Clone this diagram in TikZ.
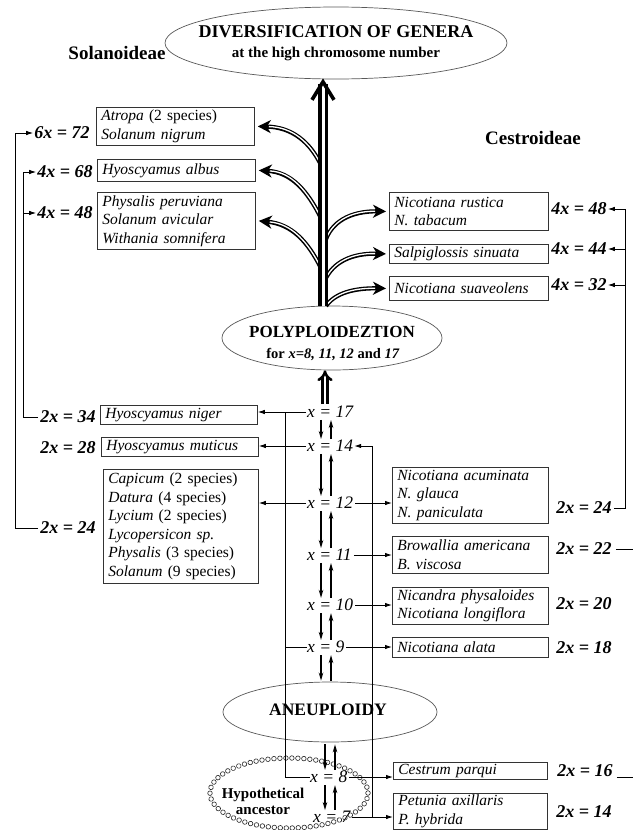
\documentclass[tikz,border=0pt]{standalone}
\usepackage{fontspec}
\setmainfont{Liberation Serif}
\usetikzlibrary{arrows.meta,shapes.geometric,decorations.markings}
\begin{document}
\begin{tikzpicture}[x=1pt,y=-1pt,
  box/.style={draw=black!80, line width=0.8pt, anchor=north west, align=left,
    inner xsep=5pt, inner ysep=0pt, font=\fontsize{15.5}{18.5}\selectfont\itshape},
  lab/.style={font=\fontsize{18}{20}\selectfont\bfseries\itshape, inner sep=0pt},
  xl/.style={font=\fontsize{17.5}{20}\selectfont\itshape, inner sep=0pt, anchor=west},
  oval/.style={ellipse, draw=black!65, line width=0.7pt, inner sep=0pt, align=center},
  ovtxt/.style={inner sep=0pt, font=\bfseries},
  sub/.style={font=\fontsize{19}{22}\selectfont\bfseries, inner sep=0pt},
  con/.style={line width=0.9pt, -{Latex[length=7pt,width=4.5pt]}},
  lin/.style={line width=0.9pt},
  dn/.style={line width=1.3pt, -{Stealth[length=8pt,width=4.5pt]}},
  stemline/.style={line width=3.9pt, double=white, double distance=3pt},
  dbl/.style={line width=2.6pt, double=white, double distance=2.2pt, -{Implies[scale=1.2]}},
  brout/.style={line width=4.2pt, -{Stealth[length=13pt,width=13pt,inset=4pt]}},
  brin/.style={line width=1.3pt, white, shorten >=11pt},
  chevron/.style={line width=3.6pt, line join=miter, line cap=butt},
]
\fill[white] (0,0) rectangle (634,830);
\useasboundingbox (0,0) rectangle (634,830);

% ---- ovals
\node[oval, minimum width=342pt, minimum height=72pt] (div) at (336,43) {};
\node[ovtxt, font=\fontsize{18}{21}\selectfont\bfseries] (divt1) at (336,32) {DIVERSIFICATION OF GENERA};
\node[ovtxt, font=\fontsize{15}{17}\selectfont\bfseries] (divt2) at (336,54) {at the high chromosome number};
\node[oval, minimum width=220pt, minimum height=64pt] (poly) at (332,338) {};
\node[ovtxt, font=\fontsize{17}{20}\selectfont\bfseries] (polyt1) at (332,332) {POLYPLOIDEZTION};
\node[ovtxt, font=\fontsize{14.5}{17}\selectfont\bfseries] (polyt2) at (333,355) {for \textit{x=8, 11, 12} and \textit{17}};
\node[oval, minimum width=214pt, minimum height=60pt] (aneu) at (330,712) {};
\node[ovtxt, font=\fontsize{17.5}{20}\selectfont\bfseries] (aneut) at (328,710) {ANEUPLOIDY};
\node[ellipse, minimum width=158pt, minimum height=70pt, inner sep=0pt,
  postaction={decorate, decoration={markings, mark=between positions 0 and 1 step 6pt with {\draw[line width=0.6pt, black!85] (0,0) circle (2.3pt);}}}] (anc) at (289,793) {};
\node[font=\fontsize{15}{16}\selectfont\bfseries, align=center, inner sep=0pt] (anctxt) at (263,801) {Hypothetical\\ancestor};

% ---- subfamilies
\node[sub] (solan) at (117,53) {Solanoideae};
\node[sub] (cestr) at (533,138) {Cestroideae};

% ---- left boxes
\node[box, text width=148pt, minimum height=38pt] (atropa) at (96,107) {Atropa {\upshape(2 species)}\\Solanum nigrum};
\node[box, text width=148pt, minimum height=22pt] (albus) at (97,159) {Hyoscyamus albus};
\node[box, text width=148pt, minimum height=57pt] (physalis) at (97,192) {Physalis peruviana\\Solanum avicular\\Withania somnifera};
\node[box, text width=147pt, minimum height=19pt] (niger) at (100,405) {Hyoscyamus niger};
\node[box, text width=147pt, minimum height=19pt] (muticus) at (101,437) {Hyoscyamus muticus};
\node[box, text width=145pt, minimum height=114pt] (capicum) at (103,469) {Capicum {\upshape(2 species)}\\Datura {\upshape(4 species)}\\Lycium {\upshape(2 species)}\\Lycopersicon sp.\\Physalis {\upshape(3 species)}\\Solanum {\upshape(9 species)}};

% ---- right boxes
\node[box, text width=149pt, minimum height=38pt] (rustica) at (389,192) {Nicotiana rustica\\N. tabacum};
\node[box, text width=149pt, minimum height=19pt] (salpi) at (389,244) {Salpiglossis sinuata};
\node[box, text width=149pt, minimum height=24pt] (suav) at (389,276) {Nicotiana suaveolens};
\node[box, text width=146pt, minimum height=56pt] (acum) at (392,467) {Nicotiana acuminata\\N. glauca\\N. paniculata};
\node[box, text width=146pt, minimum height=37pt] (brow) at (392,536) {Browallia americana\\B. viscosa};
\node[box, text width=146pt, minimum height=37pt] (nican) at (392,587) {Nicandra physaloides\\Nicotiana longiflora};
\node[box, text width=146pt, minimum height=20pt] (alata) at (392,637) {Nicotiana alata};
\node[box, text width=144pt, minimum height=17pt] (cestrum) at (393,762) {Cestrum parqui};
\node[box, text width=144pt, minimum height=36pt] (petunia) at (393,793) {Petunia axillaris\\P. hybrida};

% ---- chromosome labels
\node[lab] (l72) at (62,133) {6x = 72};
\node[lab] (l68) at (65,172) {4x = 68};
\node[lab] (l48) at (65,213) {4x = 48};
\node[lab] (l34) at (68,417) {2x = 34};
\node[lab] (l28) at (68,448) {2x = 28};
\node[lab] (l24) at (68,528) {2x = 24};
\node[lab] (r48) at (579,209) {4x = 48};
\node[lab] (r44) at (579,249) {4x = 44};
\node[lab] (r32) at (579,285) {4x = 32};
\node[lab] (r24) at (584,508) {2x = 24};
\node[lab] (r22) at (584,549) {2x = 22};
\node[lab] (r20) at (584,604) {2x = 20};
\node[lab] (r18) at (584,648) {2x = 18};
\node[lab] (r16) at (585,771) {2x = 16};
\node[lab] (r14) at (584,812) {2x = 14};

% ---- centre labels
\node[xl] (x17) at (307,412) {x = 17};
\node[xl] (x14) at (307,446) {x = 14};
\node[xl] (x12) at (307,503) {x = 12};
\node[xl] (x11) at (307,555) {x = 11};
\node[xl] (x10) at (307,605) {x = 10};
\node[xl] (x9) at (307,647) {x = 9};
\node[xl] (x8) at (310,777) {x = 8};
\node[xl] (x7) at (313,817) {x = 7};

% ---- brackets
\coordinate (lo) at (15,0); \coordinate (li) at (23,0);
\coordinate (ro) at (625,0); \coordinate (edge) at (633,0);
\draw[con, shorten <=2pt, shorten >=1pt] (l24.west) -- (l24.west -| lo) |- (l72.west);
\draw[con, shorten <=2pt, shorten >=1pt] (l34.west) -- (l34.west -| li) |- (l68.west);
\draw[con, shorten >=1pt] (l48.west -| li) -- (l48.west);
\draw[con, shorten <=2pt, shorten >=1pt] (r24.east) -- (r24.east -| ro) |- (r48.east);
\draw[con, shorten >=1pt] (r44.east -| ro) -- (r44.east);
\draw[con, shorten >=1pt] (r32.east -| ro) -- (r32.east);
\draw[lin] ([xshift=4pt]r22.east) -- (r22.east -| edge);
\draw[lin] ([xshift=4pt]r16.south east) -- (r16.south -| edge);

% ---- buses and horizontal connectors
\coordinate (lb) at (285,0); \coordinate (rb) at (372,0);
\draw[lin] (x8.west) -- (x8.west -| lb) -- (x17.west -| lb);
\draw[lin] (x9.west -| lb) -- (x9.west);
\draw[con, shorten <=1pt] (x17.west) -- (x17.west -| niger.east);
\draw[con, shorten <=1pt] (x14.west) -- (x14.west -| muticus.east);
\draw[con, shorten <=1pt] (x12.west) -- (x12.west -| capicum.east);
\draw[con, shorten >=1pt] (x7.east -| rb) -- (x14.east -| rb) -- (x14.east);
\draw[con, shorten <=2pt] (x12.east) -- (x12.east -| acum.west);
\draw[con, shorten <=2pt] (x11.east) -- (x11.east -| brow.west);
\draw[con, shorten <=2pt] (x10.east) -- (x10.east -| nican.west);
\draw[con, shorten <=2pt] (x9.east) -- (x9.east -| alata.west);
\draw[con, shorten <=2pt] (x8.east) -- (x8.east -| cestrum.west);
\draw[con, shorten <=2pt] (x7.east) -- (x7.east -| petunia.west);

% ---- centre arrow pairs
\coordinate (cl) at (321,0); \coordinate (cr) at (331,0);
\coordinate (cl2) at (325,0); \coordinate (cr2) at (335,0);
\foreach \a/\b in {x17/x14, x14/x12, x12/x11, x11/x10, x10/x9, x9/aneu} {
  \draw[dn, shorten <=2pt, shorten >=1pt] (\a.south -| cl) -- (\b.north -| cl);
  \draw[dn, shorten <=1pt, shorten >=2pt] (\b.north -| cr) -- (\a.south -| cr);
}
\foreach \a/\b in {aneu/x8, x8/x7} {
  \draw[dn, shorten <=2pt, shorten >=1pt] (\a.south -| cl2) -- (\b.north -| cl2);
  \draw[dn, shorten <=1pt, shorten >=2pt] (\b.north -| cr2) -- (\a.south -| cr2);
}
\coordinate (cc) at (325,0);
\draw[dbl, shorten <=2pt] (x17.north -| cc) -- (poly.south -| cc);

% ---- branches
\coordinate (j1) at (321,165);
\coordinate (j2) at (321,218);
\coordinate (j3) at (321,268);
\coordinate (j4) at (325,242);
\coordinate (j5) at (325,280);
\coordinate (j6) at (326,306);
\foreach \s in {brout, brin} {
  \draw[\s] (j1) .. controls (310,142) and (292,127) .. ([xshift=3pt]atropa.east);
  \draw[\s] (j2) .. controls (308,192) and (292,172) .. ([xshift=3pt]albus.east);
  \draw[\s] (j3) .. controls (308,242) and (292,224) .. ([xshift=3pt]physalis.east);
  \draw[\s] (j4) .. controls (331,222) and (350,211) .. ([xshift=-3pt]rustica.west);
  \draw[\s] (j5) .. controls (333,262) and (352,253) .. ([xshift=-3pt]salpi.west);
  \draw[\s] (j6) .. controls (335,293) and (354,288) .. ([xshift=-3pt]suav.west);
}
% ---- stem with open chevron head
\coordinate (sx) at (323,0);
\draw[stemline, shorten >=5pt] (poly.north -| sx) -- (div.south -| sx);
\coordinate (tip) at ([yshift=-2.5pt]div.south -| sx);
\draw[chevron] ([xshift=-11pt, yshift=-18pt]tip) -- (tip) -- ([xshift=11pt, yshift=-18pt]tip);
\end{tikzpicture}
\end{document}
